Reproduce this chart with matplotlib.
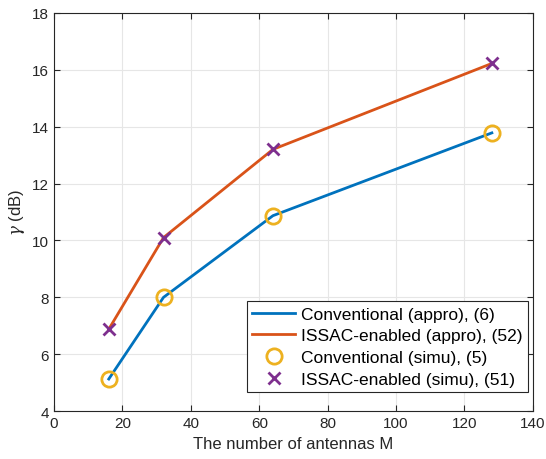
import matplotlib.pyplot as plt

plt.rcParams['font.family'] = ['Liberation Sans', 'DejaVu Sans']
plt.rcParams['mathtext.fontset'] = 'dejavuserif'

# antenna counts and SINR values (dB)
antennas = [16, 32, 64, 128]
conv_appro = [5.13, 8.0, 10.87, 13.78]
issac_appro = [6.88, 10.1, 13.2, 16.22]
conv_simu = [5.13, 8.0, 10.87, 13.78]
issac_simu = [6.88, 10.1, 13.2, 16.22]

x_ticks = [0, 20, 40, 60, 80, 100, 120, 140]
y_ticks = [4, 6, 8, 10, 12, 14, 16, 18]

blue = (0, 0.447, 0.741)
orange = (0.85, 0.325, 0.098)
yellow = (0.929, 0.694, 0.125)
purple = (0.494, 0.184, 0.556)

fig = plt.figure(figsize=(5.46, 4.6), dpi=100)
ax = fig.add_axes([0.099, 0.104, 0.877, 0.866])

ax.plot(antennas, conv_appro, '-', color=blue, lw=2, label='Conventional (appro), (6)')
ax.plot(antennas, issac_appro, '-', color=orange, lw=2, label='ISSAC-enabled (appro), (52)')
ax.plot(antennas, conv_simu, 'o', color=yellow, ms=11, mfc='none', mew=2,
        label='Conventional (simu), (5)')
ax.plot(antennas, issac_simu, 'x', color=purple, ms=8, mew=2,
        label='ISSAC-enabled (simu), (51)')

ax.set_xlim(0, 140)
ax.set_ylim(4, 18)
ax.set_xticks(x_ticks)
ax.set_yticks(y_ticks)
ax.grid(True, color='#e6e6e6', lw=0.8)
ax.set_axisbelow(True)
ax.tick_params(direction='in', top=True, right=True, labelsize=11,
               colors='#262626', length=4)
for s in ax.spines.values():
    s.set_color('#262626')
    s.set_linewidth(0.8)

ax.set_xlabel('The number of antennas M', fontsize=12, color='#262626')
ax.set_ylabel(r'$\gamma$ (dB)', fontsize=12, color='#262626')

leg = ax.legend(loc='lower right', bbox_to_anchor=(0.99, 0.048), fontsize=12.5,
                fancybox=False, framealpha=1, edgecolor='#262626',
                handlelength=2.5, borderpad=0.3, labelspacing=0.38,
                handletextpad=0.35, borderaxespad=0)
leg.get_frame().set_linewidth(0.8)

fig.savefig('out.png', dpi=100)
